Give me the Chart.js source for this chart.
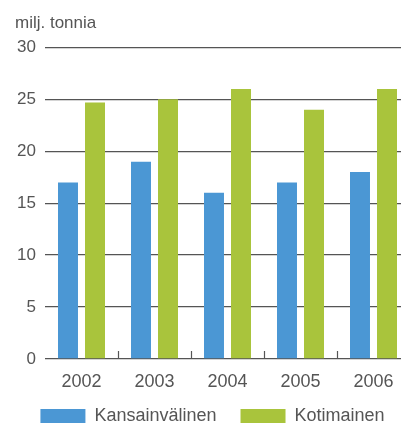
<!DOCTYPE html>
<html>
<head>
<meta charset="utf-8">
<script src="https://cdn.jsdelivr.net/npm/chart.js@4"></script>
<style>
  html, body { margin: 0; padding: 0; background: #fff; overflow: hidden; }
  #wrap { width: 401px; height: 427px; overflow: hidden; }
  #c { display: block; }
</style>
</head>
<body>
<div id="wrap"><canvas id="c" width="430" height="435"></canvas></div>
<script>
var years = ['2002', '2003', '2004', '2005', '2006'];
var kansainvalinen = [17, 19, 16, 17, 18];
var kotimainen = [24.7, 25, 26, 24, 26];
var yTicks = [0, 5, 10, 15, 20, 25, 30];

var textColor = '#555';
var font = 'Liberation Sans, Arial, sans-serif';

// small upward ticks on the zero line between the years
var catTicks = {
  id: 'catTicks',
  afterDatasetsDraw: function (chart) {
    var x = chart.scales.x, y = chart.scales.y, ctx = chart.ctx;
    var half = (x.getPixelForValue(1) - x.getPixelForValue(0)) / 2;
    var y0 = y.getPixelForValue(0);
    ctx.save();
    ctx.strokeStyle = '#555';
    ctx.lineWidth = 1.2;
    for (var i = 0; i < years.length - 1; i++) {
      var px = Math.round(x.getPixelForValue(i) + half) + 0.5;
      ctx.beginPath();
      ctx.moveTo(px, y0);
      ctx.lineTo(px, y0 - 8);
      ctx.stroke();
    }
    ctx.restore();
  }
};

new Chart(document.getElementById('c'), {
  type: 'bar',
  plugins: [catTicks],
  data: {
    labels: years,
    datasets: [
      {label: 'Kansainvälinen', data: kansainvalinen, backgroundColor: '#4b97d4'},
      {label: 'Kotimainen', data: kotimainen, backgroundColor: '#a9c43c'}
    ]
  },
  options: {
    responsive: false,
    animation: false,
    layout: {padding: {left: 15, right: 20, top: 0, bottom: 0}},
    datasets: {bar: {categoryPercentage: 0.74, barPercentage: 0.74}},
    scales: {
      x: {
        // thin axis box so the legend sits close; labels may run past it
        afterFit: function (s) {
          s.height = 24;
          s._computeLabelArea = function () {};
        },
        grid: {display: false},
        border: {display: false},
        ticks: {color: textColor, font: {family: font, size: 18}, padding: 4}
      },
      y: {
        min: 0, max: 30,
        afterFit: function (s) { s.width = 30; },
        afterBuildTicks: function (s) { s.ticks = yTicks.map(function (v) { return {value: v}; }); },
        grid: {color: '#555', lineWidth: 1.3, drawTicks: false},
        border: {display: false},
        ticks: {color: textColor, font: {family: font, size: 17}, padding: 9}
      }
    },
    plugins: {
      title: {
        display: true, text: 'milj. tonnia', align: 'start',
        color: textColor, font: {family: font, size: 17, weight: 'normal'},
        padding: {top: 13, bottom: 14}
      },
      legend: {
        position: 'bottom',
        labels: {
          color: textColor, font: {family: font, size: 18},
          boxWidth: 45, boxHeight: 14, padding: 24
        }
      },
      tooltip: {enabled: false}
    }
  }
});
</script>
</body>
</html>
